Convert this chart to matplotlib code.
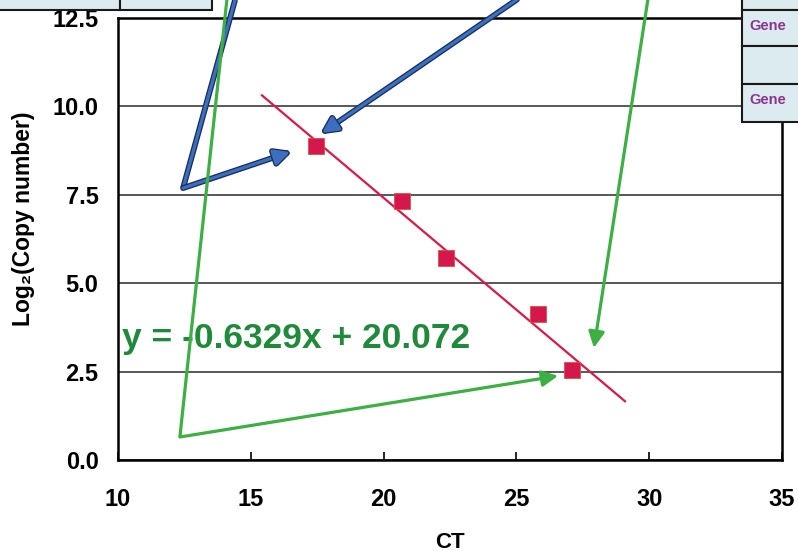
import matplotlib
matplotlib.use("Agg")
import matplotlib.pyplot as plt
from matplotlib.patches import Rectangle
import matplotlib.patheffects as pe

plt.rcParams['font.family'] = ['Liberation Sans', 'DejaVu Sans']

# ---- data ----
ct = [17.45, 20.69, 22.35, 25.81, 27.09]
log_copy = [8.88, 7.32, 5.71, 4.13, 2.55]
slope = -0.6329
intercept = 20.072
fit_x = [15.42, 29.09]
x_ticks = [10, 15, 20, 25, 30, 35]
y_ticks = [0.0, 2.5, 5.0, 7.5, 10.0, 12.5]
equation = "y = -0.6329x + 20.072"

# annotation arrows (data coords): polyline points, last segment is arrow
blue_arrows = [[(14.41, 13.02), (12.45, 7.69), (16.48, 8.71)],
               [(25.02, 13.02), (17.68, 9.25)]]
green_arrows = [[(14.10, 13.02), (12.33, 0.65), (26.57, 2.38)],
                [(29.95, 13.02), (27.92, 3.17)]]

W, H = 798, 551
fig = plt.figure(figsize=(W / 100, H / 100), dpi=100)
ax = fig.add_axes([118 / W, 1 - 460 / H, (782 - 118) / W, (460 - 18) / H])

ax.set_xlim(10, 35)
ax.set_ylim(0, 12.5)
ax.set_xticks(x_ticks)
ax.set_yticks(y_ticks)
ax.set_xticklabels([str(t) for t in x_ticks])
ax.set_yticklabels([f"{t:.1f}" for t in y_ticks])
ax.tick_params(axis='x', direction='in', length=6, width=1.2, pad=20,
               labelsize=17)
ax.tick_params(axis='y', length=0, pad=14, labelsize=17)
for lab in ax.get_xticklabels() + ax.get_yticklabels():
    lab.set_fontweight('bold')
for s in ax.spines.values():
    s.set_linewidth(1.8)
    s.set_color('black')
ax.grid(axis='y', color='#2a2a2a', linewidth=1.1)
ax.set_axisbelow(True)

# fit line
fy = [slope * x + intercept for x in fit_x]
ax.plot(fit_x, fy, color='#d8194a', lw=1.6, zorder=3)
ax.plot(ct, log_copy, 's', color='#d4184e', markersize=11.5,
        markeredgecolor='#e0503a', markeredgewidth=0.6, zorder=4)

ax.text(10.15, 3.45, equation, color='#1f8a3a', fontsize=25.5,
        fontweight='bold', ha='left', va='center', zorder=2)

def draw_arrow(pts, color, outline=None):
    effects = None
    if outline:
        effects = [pe.Stroke(linewidth=4.2, foreground=outline), pe.Normal()]
    if len(pts) > 2:
        xs = [p[0] for p in pts[:-1]]
        ys = [p[1] for p in pts[:-1]]
        ln, = ax.plot(xs, ys, color=color, lw=2.3, clip_on=False, zorder=6,
                      solid_capstyle='butt')
        if effects:
            ln.set_path_effects(effects)
    a = ax.annotate('', xy=pts[-1], xytext=pts[-2], xycoords='data',
                    textcoords='data', annotation_clip=False, zorder=6,
                    arrowprops=dict(arrowstyle='-|>', color=color, lw=2.3,
                                    mutation_scale=24, shrinkA=0, shrinkB=0))
    if effects:
        a.arrow_patch.set_path_effects(effects)

for p in blue_arrows:
    draw_arrow(p, '#3b6fc0', outline='#1c2f5a')
for p in green_arrows:
    draw_arrow(p, '#3cb043')

# labels
fig.text(24 / W, 1 - 219 / H, "Log\u2082(Copy number)", rotation=90,
         ha='center', va='center', fontsize=16.5, fontweight='bold')
fig.text(450 / W, 1 - 542 / H, "CT", ha='center', va='center',
         fontsize=16, fontweight='bold')

# table fragments of the surrounding figure
def frect(x0, y0, x1, y1):
    r = Rectangle((x0 / W, 1 - y1 / H), (x1 - x0) / W, (y1 - y0) / H,
                  transform=fig.transFigure, facecolor='#dcebef',
                  edgecolor='#1a1a1a', lw=1.5, zorder=10)
    fig.add_artist(r)

frect(-5, -5, 120, 10)
frect(120, -5, 212, 10)
row_edges = [-5, 10, 46, 84, 122]
for i in range(len(row_edges) - 1):
    frect(742, row_edges[i], 805, row_edges[i + 1])
for yc in [26, 100]:
    fig.text(749 / W, 1 - yc / H, "Gene", color='#8a3590', fontsize=10.5,
             fontweight='bold', ha='left', va='center', zorder=11)

fig.savefig("out.png", dpi=100)
